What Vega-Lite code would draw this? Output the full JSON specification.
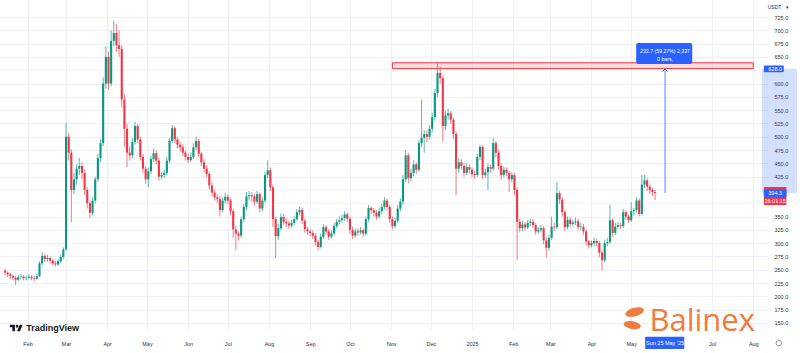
{
"$schema":"https://vega.github.io/schema/vega-lite/v6.json",
"autosize":{"type":"none"},
"padding":{"left":0,"top":0,"right":33,"bottom":23},
"width":767,"height":330,
"background":"#ffffff",
"config":{"view":{"stroke":null},"text":{"font":"Liberation Sans"}},
"datasets":{
"candles":[
{"t":"2024-01-15","o":248,"h":252,"l":240,"c":245},
{"t":"2024-01-17","o":245,"h":247,"l":236,"c":241},
{"t":"2024-01-19","o":241,"h":244,"l":232,"c":238},
{"t":"2024-01-21","o":238,"h":241,"l":230,"c":235},
{"t":"2024-01-23","o":235,"h":238,"l":221,"c":231},
{"t":"2024-01-25","o":231,"h":240,"l":228,"c":236},
{"t":"2024-01-27","o":236,"h":242,"l":232,"c":237},
{"t":"2024-01-29","o":237,"h":240,"l":230,"c":234},
{"t":"2024-01-31","o":234,"h":239,"l":230,"c":235},
{"t":"2024-02-02","o":235,"h":241,"l":232,"c":237},
{"t":"2024-02-04","o":237,"h":240,"l":230,"c":234},
{"t":"2024-02-06","o":234,"h":238,"l":229,"c":233},
{"t":"2024-02-08","o":233,"h":243,"l":231,"c":238},
{"t":"2024-02-10","o":238,"h":266,"l":236,"c":262},
{"t":"2024-02-12","o":262,"h":283,"l":258,"c":276},
{"t":"2024-02-14","o":276,"h":280,"l":264,"c":270},
{"t":"2024-02-16","o":270,"h":278,"l":265,"c":272},
{"t":"2024-02-18","o":272,"h":275,"l":262,"c":267},
{"t":"2024-02-20","o":267,"h":270,"l":258,"c":262},
{"t":"2024-02-22","o":262,"h":266,"l":256,"c":260},
{"t":"2024-02-24","o":260,"h":270,"l":257,"c":266},
{"t":"2024-02-26","o":266,"h":278,"l":263,"c":274},
{"t":"2024-02-28","o":274,"h":292,"l":271,"c":288},
{"t":"2024-03-01","o":288,"h":526,"l":285,"c":500},
{"t":"2024-03-03","o":500,"h":508,"l":455,"c":470},
{"t":"2024-03-05","o":470,"h":476,"l":340,"c":400},
{"t":"2024-03-07","o":400,"h":432,"l":392,"c":420},
{"t":"2024-03-09","o":420,"h":448,"l":410,"c":440},
{"t":"2024-03-11","o":440,"h":460,"l":428,"c":445},
{"t":"2024-03-13","o":445,"h":452,"l":420,"c":432},
{"t":"2024-03-15","o":432,"h":438,"l":390,"c":400},
{"t":"2024-03-17","o":400,"h":405,"l":365,"c":375},
{"t":"2024-03-19","o":375,"h":380,"l":347,"c":357},
{"t":"2024-03-21","o":357,"h":386,"l":352,"c":380},
{"t":"2024-03-23","o":380,"h":425,"l":375,"c":420},
{"t":"2024-03-25","o":420,"h":468,"l":415,"c":460},
{"t":"2024-03-27","o":460,"h":495,"l":452,"c":488},
{"t":"2024-03-29","o":488,"h":612,"l":482,"c":600},
{"t":"2024-03-31","o":600,"h":670,"l":590,"c":650},
{"t":"2024-04-02","o":650,"h":660,"l":588,"c":600},
{"t":"2024-04-04","o":600,"h":700,"l":595,"c":680},
{"t":"2024-04-06","o":680,"h":718,"l":670,"c":695},
{"t":"2024-04-08","o":695,"h":712,"l":660,"c":672},
{"t":"2024-04-10","o":672,"h":700,"l":650,"c":665},
{"t":"2024-04-12","o":665,"h":672,"l":555,"c":570},
{"t":"2024-04-14","o":570,"h":580,"l":480,"c":515},
{"t":"2024-04-16","o":515,"h":525,"l":443,"c":470},
{"t":"2024-04-18","o":470,"h":482,"l":455,"c":465},
{"t":"2024-04-20","o":465,"h":498,"l":460,"c":490},
{"t":"2024-04-22","o":490,"h":528,"l":485,"c":520},
{"t":"2024-04-24","o":520,"h":524,"l":488,"c":495},
{"t":"2024-04-26","o":495,"h":500,"l":455,"c":462},
{"t":"2024-04-28","o":462,"h":468,"l":432,"c":440},
{"t":"2024-04-30","o":440,"h":445,"l":412,"c":420},
{"t":"2024-05-02","o":420,"h":442,"l":405,"c":435},
{"t":"2024-05-04","o":435,"h":464,"l":430,"c":458},
{"t":"2024-05-06","o":458,"h":478,"l":452,"c":469},
{"t":"2024-05-08","o":469,"h":474,"l":448,"c":455},
{"t":"2024-05-10","o":455,"h":460,"l":418,"c":425},
{"t":"2024-05-12","o":425,"h":434,"l":420,"c":428},
{"t":"2024-05-14","o":428,"h":438,"l":422,"c":432},
{"t":"2024-05-16","o":432,"h":462,"l":428,"c":455},
{"t":"2024-05-18","o":455,"h":498,"l":450,"c":492},
{"t":"2024-05-20","o":492,"h":522,"l":488,"c":516},
{"t":"2024-05-22","o":516,"h":520,"l":488,"c":495},
{"t":"2024-05-24","o":495,"h":500,"l":478,"c":485},
{"t":"2024-05-26","o":485,"h":490,"l":472,"c":480},
{"t":"2024-05-28","o":480,"h":486,"l":463,"c":470},
{"t":"2024-05-30","o":470,"h":474,"l":455,"c":462},
{"t":"2024-06-01","o":462,"h":468,"l":450,"c":456},
{"t":"2024-06-03","o":456,"h":470,"l":452,"c":462},
{"t":"2024-06-05","o":462,"h":488,"l":458,"c":480},
{"t":"2024-06-07","o":480,"h":500,"l":475,"c":492},
{"t":"2024-06-09","o":492,"h":496,"l":462,"c":468},
{"t":"2024-06-11","o":468,"h":472,"l":445,"c":452},
{"t":"2024-06-13","o":452,"h":458,"l":433,"c":440},
{"t":"2024-06-15","o":440,"h":446,"l":424,"c":430},
{"t":"2024-06-17","o":430,"h":434,"l":400,"c":408},
{"t":"2024-06-19","o":408,"h":414,"l":388,"c":395},
{"t":"2024-06-21","o":395,"h":400,"l":380,"c":386},
{"t":"2024-06-23","o":386,"h":392,"l":376,"c":383},
{"t":"2024-06-25","o":383,"h":388,"l":350,"c":362},
{"t":"2024-06-27","o":362,"h":386,"l":358,"c":380},
{"t":"2024-06-29","o":380,"h":394,"l":374,"c":387},
{"t":"2024-07-01","o":387,"h":392,"l":374,"c":380},
{"t":"2024-07-03","o":380,"h":384,"l":352,"c":360},
{"t":"2024-07-05","o":360,"h":364,"l":310,"c":326},
{"t":"2024-07-07","o":326,"h":332,"l":287,"c":318},
{"t":"2024-07-09","o":318,"h":322,"l":305,"c":314},
{"t":"2024-07-11","o":314,"h":350,"l":310,"c":345},
{"t":"2024-07-13","o":345,"h":374,"l":340,"c":368},
{"t":"2024-07-15","o":368,"h":396,"l":362,"c":388},
{"t":"2024-07-17","o":388,"h":398,"l":380,"c":390},
{"t":"2024-07-19","o":390,"h":396,"l":378,"c":388},
{"t":"2024-07-21","o":388,"h":392,"l":370,"c":378},
{"t":"2024-07-23","o":378,"h":398,"l":374,"c":392},
{"t":"2024-07-25","o":392,"h":395,"l":358,"c":365},
{"t":"2024-07-27","o":365,"h":386,"l":360,"c":380},
{"t":"2024-07-29","o":380,"h":434,"l":376,"c":428},
{"t":"2024-07-31","o":428,"h":456,"l":422,"c":437},
{"t":"2024-08-02","o":437,"h":442,"l":398,"c":405},
{"t":"2024-08-04","o":405,"h":410,"l":330,"c":345},
{"t":"2024-08-06","o":345,"h":350,"l":272,"c":313},
{"t":"2024-08-08","o":313,"h":336,"l":306,"c":328},
{"t":"2024-08-10","o":328,"h":356,"l":324,"c":349},
{"t":"2024-08-12","o":349,"h":354,"l":334,"c":340},
{"t":"2024-08-14","o":340,"h":346,"l":330,"c":337},
{"t":"2024-08-16","o":337,"h":342,"l":327,"c":333},
{"t":"2024-08-18","o":333,"h":344,"l":329,"c":338},
{"t":"2024-08-20","o":338,"h":350,"l":334,"c":345},
{"t":"2024-08-22","o":345,"h":364,"l":342,"c":358},
{"t":"2024-08-24","o":358,"h":368,"l":352,"c":362},
{"t":"2024-08-26","o":362,"h":366,"l":336,"c":342},
{"t":"2024-08-28","o":342,"h":346,"l":320,"c":326},
{"t":"2024-08-30","o":326,"h":330,"l":316,"c":322},
{"t":"2024-09-01","o":322,"h":326,"l":313,"c":319},
{"t":"2024-09-03","o":319,"h":324,"l":308,"c":314},
{"t":"2024-09-05","o":314,"h":318,"l":296,"c":302},
{"t":"2024-09-07","o":302,"h":306,"l":286,"c":293},
{"t":"2024-09-09","o":293,"h":318,"l":290,"c":312},
{"t":"2024-09-11","o":312,"h":336,"l":308,"c":330},
{"t":"2024-09-13","o":330,"h":334,"l":316,"c":322},
{"t":"2024-09-15","o":322,"h":326,"l":306,"c":312},
{"t":"2024-09-17","o":312,"h":324,"l":308,"c":318},
{"t":"2024-09-19","o":318,"h":338,"l":314,"c":332},
{"t":"2024-09-21","o":332,"h":346,"l":328,"c":340},
{"t":"2024-09-23","o":340,"h":350,"l":335,"c":343},
{"t":"2024-09-25","o":343,"h":354,"l":338,"c":347},
{"t":"2024-09-27","o":347,"h":360,"l":342,"c":354},
{"t":"2024-09-29","o":354,"h":358,"l":340,"c":346},
{"t":"2024-10-01","o":346,"h":350,"l":318,"c":325},
{"t":"2024-10-03","o":325,"h":330,"l":308,"c":314},
{"t":"2024-10-05","o":314,"h":327,"l":310,"c":322},
{"t":"2024-10-07","o":322,"h":328,"l":314,"c":320},
{"t":"2024-10-09","o":320,"h":330,"l":316,"c":324},
{"t":"2024-10-11","o":324,"h":328,"l":312,"c":318},
{"t":"2024-10-13","o":318,"h":350,"l":314,"c":345},
{"t":"2024-10-15","o":345,"h":372,"l":340,"c":366},
{"t":"2024-10-17","o":366,"h":370,"l":355,"c":362},
{"t":"2024-10-19","o":362,"h":366,"l":350,"c":357},
{"t":"2024-10-21","o":357,"h":362,"l":344,"c":350},
{"t":"2024-10-23","o":350,"h":366,"l":346,"c":360},
{"t":"2024-10-25","o":360,"h":374,"l":355,"c":368},
{"t":"2024-10-27","o":368,"h":386,"l":364,"c":380},
{"t":"2024-10-29","o":380,"h":384,"l":362,"c":368},
{"t":"2024-10-31","o":368,"h":372,"l":338,"c":345},
{"t":"2024-11-02","o":345,"h":350,"l":326,"c":332},
{"t":"2024-11-04","o":332,"h":348,"l":328,"c":342},
{"t":"2024-11-06","o":342,"h":372,"l":338,"c":365},
{"t":"2024-11-08","o":365,"h":384,"l":360,"c":378},
{"t":"2024-11-10","o":378,"h":428,"l":372,"c":420},
{"t":"2024-11-12","o":420,"h":475,"l":415,"c":465},
{"t":"2024-11-14","o":465,"h":470,"l":412,"c":422},
{"t":"2024-11-16","o":422,"h":440,"l":416,"c":432},
{"t":"2024-11-18","o":432,"h":456,"l":426,"c":448},
{"t":"2024-11-20","o":448,"h":452,"l":430,"c":438},
{"t":"2024-11-22","o":438,"h":494,"l":434,"c":488},
{"t":"2024-11-24","o":488,"h":570,"l":480,"c":498},
{"t":"2024-11-26","o":498,"h":512,"l":470,"c":505},
{"t":"2024-11-28","o":505,"h":512,"l":490,"c":500},
{"t":"2024-11-30","o":500,"h":522,"l":495,"c":515},
{"t":"2024-12-02","o":515,"h":545,"l":508,"c":537},
{"t":"2024-12-04","o":537,"h":590,"l":530,"c":582},
{"t":"2024-12-06","o":582,"h":638,"l":575,"c":620},
{"t":"2024-12-08","o":620,"h":632,"l":600,"c":610},
{"t":"2024-12-10","o":610,"h":614,"l":490,"c":520},
{"t":"2024-12-12","o":520,"h":548,"l":512,"c":540},
{"t":"2024-12-14","o":540,"h":552,"l":532,"c":544},
{"t":"2024-12-16","o":544,"h":548,"l":524,"c":532},
{"t":"2024-12-18","o":532,"h":536,"l":495,"c":505},
{"t":"2024-12-20","o":505,"h":510,"l":390,"c":440},
{"t":"2024-12-22","o":440,"h":460,"l":432,"c":452},
{"t":"2024-12-24","o":452,"h":458,"l":438,"c":445},
{"t":"2024-12-26","o":445,"h":450,"l":425,"c":432},
{"t":"2024-12-28","o":432,"h":450,"l":428,"c":443},
{"t":"2024-12-30","o":443,"h":448,"l":430,"c":438},
{"t":"2025-01-01","o":438,"h":442,"l":424,"c":430},
{"t":"2025-01-03","o":430,"h":436,"l":420,"c":428},
{"t":"2025-01-05","o":428,"h":468,"l":424,"c":462},
{"t":"2025-01-07","o":462,"h":485,"l":456,"c":481},
{"t":"2025-01-09","o":481,"h":484,"l":420,"c":428},
{"t":"2025-01-11","o":428,"h":440,"l":422,"c":433},
{"t":"2025-01-13","o":433,"h":450,"l":400,"c":443},
{"t":"2025-01-15","o":443,"h":448,"l":432,"c":440},
{"t":"2025-01-17","o":440,"h":498,"l":436,"c":488},
{"t":"2025-01-19","o":488,"h":492,"l":462,"c":470},
{"t":"2025-01-21","o":470,"h":475,"l":438,"c":445},
{"t":"2025-01-23","o":445,"h":450,"l":420,"c":428},
{"t":"2025-01-25","o":428,"h":444,"l":424,"c":438},
{"t":"2025-01-27","o":438,"h":442,"l":426,"c":432},
{"t":"2025-01-29","o":432,"h":436,"l":396,"c":420},
{"t":"2025-01-31","o":420,"h":434,"l":414,"c":428},
{"t":"2025-02-02","o":428,"h":432,"l":390,"c":400},
{"t":"2025-02-04","o":400,"h":404,"l":268,"c":340},
{"t":"2025-02-06","o":340,"h":346,"l":320,"c":328},
{"t":"2025-02-08","o":328,"h":342,"l":322,"c":335},
{"t":"2025-02-10","o":335,"h":340,"l":324,"c":330},
{"t":"2025-02-12","o":330,"h":344,"l":326,"c":338},
{"t":"2025-02-14","o":338,"h":346,"l":332,"c":340},
{"t":"2025-02-16","o":340,"h":344,"l":328,"c":334},
{"t":"2025-02-18","o":334,"h":338,"l":316,"c":322},
{"t":"2025-02-20","o":322,"h":330,"l":318,"c":325},
{"t":"2025-02-22","o":325,"h":334,"l":320,"c":328},
{"t":"2025-02-24","o":328,"h":332,"l":298,"c":305},
{"t":"2025-02-26","o":305,"h":310,"l":273,"c":291},
{"t":"2025-02-28","o":291,"h":316,"l":286,"c":310},
{"t":"2025-03-02","o":310,"h":350,"l":306,"c":331},
{"t":"2025-03-04","o":331,"h":338,"l":322,"c":330},
{"t":"2025-03-06","o":330,"h":415,"l":326,"c":394},
{"t":"2025-03-08","o":394,"h":398,"l":374,"c":382},
{"t":"2025-03-10","o":382,"h":386,"l":350,"c":358},
{"t":"2025-03-12","o":358,"h":362,"l":322,"c":330},
{"t":"2025-03-14","o":330,"h":350,"l":326,"c":344},
{"t":"2025-03-16","o":344,"h":348,"l":330,"c":336},
{"t":"2025-03-18","o":336,"h":344,"l":332,"c":339},
{"t":"2025-03-20","o":339,"h":348,"l":334,"c":341},
{"t":"2025-03-22","o":341,"h":345,"l":325,"c":330},
{"t":"2025-03-24","o":330,"h":338,"l":324,"c":331},
{"t":"2025-03-26","o":331,"h":336,"l":316,"c":322},
{"t":"2025-03-28","o":322,"h":326,"l":296,"c":303},
{"t":"2025-03-30","o":303,"h":306,"l":290,"c":296},
{"t":"2025-04-01","o":296,"h":305,"l":292,"c":300},
{"t":"2025-04-03","o":300,"h":310,"l":294,"c":304},
{"t":"2025-04-05","o":304,"h":308,"l":294,"c":300},
{"t":"2025-04-07","o":300,"h":304,"l":274,"c":282},
{"t":"2025-04-09","o":282,"h":286,"l":249,"c":268},
{"t":"2025-04-11","o":268,"h":306,"l":264,"c":300},
{"t":"2025-04-13","o":300,"h":310,"l":294,"c":302},
{"t":"2025-04-15","o":302,"h":372,"l":298,"c":343},
{"t":"2025-04-17","o":343,"h":346,"l":312,"c":319},
{"t":"2025-04-19","o":319,"h":338,"l":315,"c":331},
{"t":"2025-04-21","o":331,"h":340,"l":326,"c":334},
{"t":"2025-04-23","o":334,"h":338,"l":326,"c":332},
{"t":"2025-04-25","o":332,"h":364,"l":328,"c":358},
{"t":"2025-04-27","o":358,"h":362,"l":344,"c":350},
{"t":"2025-04-29","o":350,"h":354,"l":338,"c":343},
{"t":"2025-05-01","o":343,"h":377,"l":340,"c":360},
{"t":"2025-05-03","o":360,"h":366,"l":352,"c":362},
{"t":"2025-05-05","o":362,"h":386,"l":358,"c":380},
{"t":"2025-05-07","o":380,"h":384,"l":350,"c":355},
{"t":"2025-05-09","o":355,"h":428,"l":352,"c":410},
{"t":"2025-05-11","o":410,"h":428,"l":404,"c":418},
{"t":"2025-05-13","o":418,"h":422,"l":398,"c":406},
{"t":"2025-05-15","o":406,"h":410,"l":392,"c":400},
{"t":"2025-05-17","o":400,"h":404,"l":388,"c":396},
{"t":"2025-05-19","o":396,"h":400,"l":381,"c":394.3}
],
"hidden":[{"p":625},{"p":400},{"p":375}],
"zone":[{"t1":"2024-11-02","t2":"2025-08-01","p1":628,"p2":639}],
"measure":[{"t":"2025-05-26T12:00:00Z","p1":394.3,"p2":628,"tip":625.5}],
"mbox":[{"t1":"2025-05-04T18:00:00Z","t2":"2025-06-16T00:00:00Z","p1":636.7,"p2":676}],
"mtext":[{"t":"2025-05-26T12:00:00Z","p":662,"s":"233.7 (59.27%) 2,337"},{"t":"2025-05-26T12:00:00Z","p":646,"s":"0 bars,"}],
"axhl":[{"t1":"2025-08-07T14:00:00Z","t2":"2025-09-03T00:00:00Z","p1":394.3,"p2":628}],
"badges":[
{"t1":"2025-08-09T00:00:00Z","t2":"2025-08-26T00:00:00Z","p1":405.5,"p2":371.5,"col":"red"},
{"t1":"2025-08-09T00:00:00Z","t2":"2025-08-26T00:00:00Z","p1":386,"p2":401,"col":"blue"},
{"t1":"2025-08-09T00:00:00Z","t2":"2025-08-24T00:00:00Z","p1":621,"p2":634,"col":"blue"},
{"t1":"2025-05-11T12:00:00Z","t2":"2025-06-10T00:00:00Z","p1":101,"p2":124,"col":"blue"}
],
"btext":[
{"t":"2025-08-17T12:00:00Z","p":627.5,"s":"628.0"},
{"t":"2025-08-17T12:00:00Z","p":393.5,"s":"394.3"},
{"t":"2025-08-17T12:00:00Z","p":378.5,"s":"16:01:15"},
{"t":"2025-05-26T12:00:00Z","p":112,"s":"Sun 25 May '25"}
],
"logo":[{"t":"2024-01-23T13:00:00Z","p":140.4}],
"tv":[{"t":"2024-01-31T00:00:00Z","p":140.4,"s":"TradingView"}],
"bx":[{"t":"2025-05-14T18:00:00Z","p":135,"s":"Balinex"}],
"leaf1":[{"t":"2025-05-03T14:00:00Z","p":170.5}],
"leaf2":[{"t":"2025-05-01T19:00:00Z","p":146}],
"usdt":[{"t":"2025-08-17T00:00:00Z","p":743.8,"s":"USDT"},{"t":"2025-08-27T00:00:00Z","p":743.8,"s":"▾"}],
"gear":[{"t":"2025-08-20T06:00:00Z","p":112}]
},
"layer":[
{"data":{"name":"hidden"},"mark":{"type":"rule","color":"#eef0f5","strokeWidth":1},
"encoding":{"y":{"field":"p","type":"quantitative"}}},
{"data":{"name":"candles"},"mark":{"type":"rule","strokeWidth":0.8,"opacity":0.85},
"encoding":{
"x":{"field":"t","type":"temporal","scale":{"type":"utc","domain":[{"year":2024,"month":1,"date":15,"utc":true},{"year":2025,"month":8,"date":7,"hours":14,"utc":true}]},
"axis":{"title":null,"orient":"bottom","tickCount":60,
"values":[{"year":2024,"month":2,"date":1,"utc":true},{"year":2024,"month":3,"date":1,"utc":true},{"year":2024,"month":4,"date":1,"utc":true},{"year":2024,"month":5,"date":1,"utc":true},{"year":2024,"month":6,"date":1,"utc":true},{"year":2024,"month":7,"date":1,"utc":true},{"year":2024,"month":8,"date":1,"utc":true},{"year":2024,"month":9,"date":1,"utc":true},{"year":2024,"month":10,"date":1,"utc":true},{"year":2024,"month":11,"date":1,"utc":true},{"year":2024,"month":12,"date":1,"utc":true},{"year":2025,"month":1,"date":1,"utc":true},{"year":2025,"month":2,"date":1,"utc":true},{"year":2025,"month":3,"date":1,"utc":true},{"year":2025,"month":4,"date":1,"utc":true},{"year":2025,"month":5,"date":1,"utc":true},{"year":2025,"month":7,"date":1,"utc":true},{"year":2025,"month":8,"date":1,"utc":true}],
"labelExpr":"utcFormat(datum.value, '%m') == '01' ? utcFormat(datum.value, '%Y') : utcFormat(datum.value, '%b')","labelFontSize":5.5,"labelFont":"Liberation Sans","labelColor":"#2a2e39","labelPadding":13,"labelBaseline":"middle","labelOverlap":false,"domain":false,"ticks":false,"gridColor":"#eef0f5","gridWidth":1,"labelFlush":false}},
"y":{"field":"l","type":"quantitative","scale":{"domain":[136.7,757],"zero":false,"nice":false},
"axis":{"title":null,"orient":"right","tickCount":60,"values":[150,175,200,225,250,275,300,325,350,425,450,475,500,525,550,575,600,650,675,700,725],"format":".1f","labelFontSize":5.5,"labelFont":"Liberation Sans","labelColor":"#2a2e39","labelPadding":7,"labelOverlap":false,"labelFlush":false,"domain":false,"ticks":false,"gridColor":"#eef0f5","gridWidth":1}},
"y2":{"field":"h"},
"color":{"condition":{"test":"datum.c >= datum.o","value":"#089981"},"value":"#f23645"}}},
{"data":{"name":"candles"},"mark":{"type":"bar","size":2.1},
"encoding":{
"x":{"field":"t","type":"temporal"},
"y":{"field":"o","type":"quantitative"},
"y2":{"field":"c"},
"color":{"condition":{"test":"datum.c >= datum.o","value":"#089981"},"value":"#f23645"}}},
{"mark":{"type":"rule","color":"#f23645","opacity":0.3,"strokeWidth":1},
"encoding":{"y":{"datum":394.3,"type":"quantitative"}}},
{"data":{"name":"zone"},"mark":{"type":"rect","fill":"#f23645","fillOpacity":0.18,"stroke":"#f23645","strokeWidth":1},
"encoding":{"x":{"field":"t1","type":"temporal"},"x2":{"field":"t2"},"y":{"field":"p1","type":"quantitative"},"y2":{"field":"p2"}}},
{"data":{"name":"axhl"},"mark":{"type":"rect","fill":"#2962ff","fillOpacity":0.2},
"encoding":{"x":{"field":"t1","type":"temporal"},"x2":{"field":"t2"},"y":{"field":"p1","type":"quantitative"},"y2":{"field":"p2"}}},
{"data":{"name":"measure"},"mark":{"type":"rule","color":"#2962ff","strokeWidth":1,"opacity":0.8},
"encoding":{"x":{"field":"t","type":"temporal"},"y":{"field":"p1","type":"quantitative"},"y2":{"field":"p2"}}},
{"data":{"name":"measure"},"mark":{"type":"point","shape":"M-1,0.6L0,-0.4L1,0.6","filled":false,"stroke":"#2962ff","strokeWidth":1,"size":30,"opacity":1},
"encoding":{"x":{"field":"t","type":"temporal"},"y":{"field":"tip","type":"quantitative"}}},
{"data":{"name":"mbox"},"mark":{"type":"rect","fill":"#2962ff","cornerRadius":2},
"encoding":{"x":{"field":"t1","type":"temporal"},"x2":{"field":"t2"},"y":{"field":"p1","type":"quantitative"},"y2":{"field":"p2"}}},
{"data":{"name":"mtext"},"mark":{"type":"text","color":"#ffffff","fontSize":5.2,"align":"center","baseline":"middle"},
"encoding":{"x":{"field":"t","type":"temporal"},"y":{"field":"p","type":"quantitative"},"text":{"field":"s"}}},
{"data":{"name":"badges"},"mark":{"type":"rect","cornerRadius":1},
"encoding":{"x":{"field":"t1","type":"temporal"},"x2":{"field":"t2"},"y":{"field":"p1","type":"quantitative"},"y2":{"field":"p2"},
"color":{"field":"col","type":"nominal","scale":{"domain":["red","blue"],"range":["#f23645","#2962ff"]},"legend":null}}},
{"data":{"name":"btext"},"mark":{"type":"text","color":"#ffffff","fontSize":5.5,"align":"center","baseline":"middle"},
"encoding":{"x":{"field":"t","type":"temporal"},"y":{"field":"p","type":"quantitative"},"text":{"field":"s"}}},
{"data":{"name":"usdt"},"mark":{"type":"text","color":"#2a2e39","fontSize":5,"align":"center","baseline":"middle"},
"encoding":{"x":{"field":"t","type":"temporal"},"y":{"field":"p","type":"quantitative"},"text":{"field":"s"}}},
{"data":{"name":"gear"},"mark":{"type":"point","shape":"circle","filled":false,"stroke":"#6a6d78","strokeWidth":1,"size":30},
"encoding":{"x":{"field":"t","type":"temporal"},"y":{"field":"p","type":"quantitative"}}},
{"data":{"name":"logo"},"mark":{"type":"point","shape":"M-0.222,0.5H-0.611V-0.111H-1V-0.5H-0.222Z M-0.111,-0.278A0.222,0.222,0,1,0,0.333,-0.278A0.222,0.222,0,1,0,-0.111,-0.278Z M0.556,0.5H0.111L0.528,-0.5H0.972Z","filled":true,"fill":"#131722","strokeWidth":0,"size":169,"opacity":1},
"encoding":{"x":{"field":"t","type":"temporal"},"y":{"field":"p","type":"quantitative"}}},
{"data":{"name":"tv"},"mark":{"type":"text","color":"#131722","fontSize":9,"fontWeight":"bold","align":"left","baseline":"middle"},
"encoding":{"x":{"field":"t","type":"temporal"},"y":{"field":"p","type":"quantitative"},"text":{"field":"s"}}},
{"data":{"name":"leaf1"},"mark":{"type":"point","shape":"M-1,0A1,0.45,0,1,1,1,0A1,0.45,0,1,1,-1,0Z","filled":true,"fill":"#ef7b3e","strokeWidth":0,"size":361,"angle":-15,"opacity":1},
"encoding":{"x":{"field":"t","type":"temporal"},"y":{"field":"p","type":"quantitative"}}},
{"data":{"name":"leaf2"},"mark":{"type":"point","shape":"M-1,0A1,0.45,0,1,1,1,0A1,0.45,0,1,1,-1,0Z","filled":true,"fill":"#ef7b3e","strokeWidth":0,"size":300,"angle":10,"opacity":1},
"encoding":{"x":{"field":"t","type":"temporal"},"y":{"field":"p","type":"quantitative"}}},
{"data":{"name":"bx"},"mark":{"type":"text","color":"#ef7b3e","fontSize":31,"font":"Open Sans","align":"left","baseline":"alphabetic"},
"encoding":{"x":{"field":"t","type":"temporal"},"y":{"field":"p","type":"quantitative"},"text":{"field":"s"}}}
]
}
